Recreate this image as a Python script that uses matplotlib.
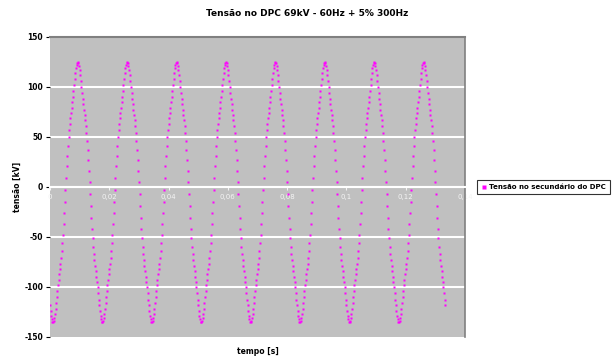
from matplotlib import pyplot as plt
import numpy as np

# one cycle of the secondary voltage [kV], 80 samples per 60 Hz period
cycle_kv = [-118.4, -124.0, -128.7, -132.3, -134.5, -135.0, -133.8, -131.1, -127.0, -121.8,
            -116.1, -110.0, -104.0, -98.2, -92.7, -87.4, -82.2, -76.8, -70.8, -64.1,
            -56.3, -47.5, -37.4, -26.4, -14.6, -2.6, 9.4, 20.9, 31.5, 41.2,
            49.6, 56.9, 63.3, 69.0, 74.3, 79.5, 84.8, 90.4, 96.4, 102.5,
            108.4, 114.0, 118.7, 122.3, 124.5, 125.0, 123.8, 121.1, 117.0, 111.8,
            106.1, 100.0, 94.0, 88.2, 82.7, 77.4, 72.2, 66.8, 60.8, 54.1,
            46.3, 37.5, 27.4, 16.4, 4.6, -7.4, -19.4, -30.9, -41.5, -51.2,
            -59.6, -66.9, -73.3, -79.0, -84.3, -89.5, -94.8, -100.4, -106.4, -112.5]
n_cycles = 8
freq = 60.0

y_ticks = [-150, -100, -50, 0, 50, 100, 150]
x_ticks = [0, 0.02, 0.04, 0.06, 0.08, 0.1, 0.12, 0.14]
x_tick_labels = ['0', '0,02', '0,04', '0,06', '0,08', '0,1', '0,12', '0,14']

title = 'Tensão no DPC 69kV - 60Hz + 5% 300Hz'
series_name = 'Tensão no secundário do DPC'

v = np.array(cycle_kv * n_cycles + [cycle_kv[0]])
dt = 1.0 / freq / len(cycle_kv)
t = np.arange(len(v)) * dt

fig = plt.figure(figsize=(6.14, 3.62), dpi=100)
ax = fig.add_axes([50 / 614, 25 / 362, 415 / 614, 300 / 362])
ax.set_facecolor('#c0c0c0')

for yv in y_ticks[1:-1]:
    ax.axhline(yv, color='white', lw=1.5, zorder=1)

ax.plot(t, v, 's', ms=2.0, color='#ff00ff', mec='none', zorder=3, label=series_name)

ax.set_xlim(0, 0.14)
ax.set_ylim(-150, 150)
ax.set_yticks(y_ticks)
ax.set_yticklabels([str(y) for y in y_ticks], fontweight='bold')
ax.set_xticks(x_ticks)
ax.set_xticklabels(x_tick_labels, fontweight='bold')

ax.spines['bottom'].set_position(('data', 0))
ax.spines['bottom'].set_color('white')
ax.spines['bottom'].set_linewidth(1.5)
ax.spines['left'].set_visible(False)
ax.spines['top'].set_color('#808080')
ax.spines['top'].set_linewidth(1.5)
ax.spines['right'].set_color('#808080')
ax.spines['right'].set_linewidth(1.2)
ax.tick_params(axis='y', length=3, width=0.8, pad=2, labelsize=5.5)
ax.tick_params(axis='x', length=2, width=0.8, colors='#f4f4f4', pad=3, labelsize=5)

fig.text(0.5, 0.975, title, ha='center', va='top', fontsize=6.5, fontweight='bold')
fig.text(17 / 614, (362 - 187) / 362, 'tensão [kV]', rotation=90,
         ha='center', va='center', fontsize=5.5, fontweight='bold')
fig.text(258 / 614, (362 - 352) / 362, 'tempo [s]', ha='center', va='center',
         fontsize=5.5, fontweight='bold')

leg = fig.legend(loc='center left', bbox_to_anchor=(474 / 614, (362 - 187) / 362),
                 fontsize=5, frameon=True, fancybox=False, edgecolor='black',
                 handlelength=0.6, handletextpad=0.4, borderpad=0.6, markerscale=1.6)
leg.get_frame().set_linewidth(0.8)
for txt in leg.get_texts():
    txt.set_fontweight('bold')

fig.savefig('out.png', dpi=100)
